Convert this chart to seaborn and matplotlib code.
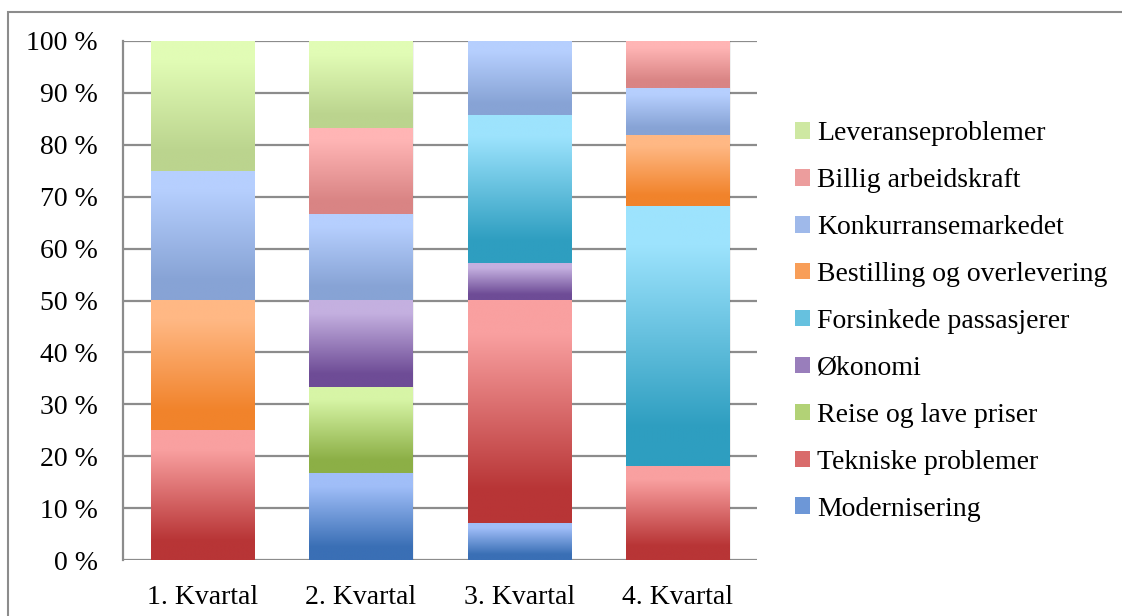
import numpy as np
import pandas as pd
import seaborn as sns
import matplotlib.pyplot as plt
from matplotlib.colors import LinearSegmentedColormap, to_rgb
from matplotlib.patches import Patch, Rectangle

quarters = ['1. Kvartal', '2. Kvartal', '3. Kvartal', '4. Kvartal']

# series, bottom to top (counts per quarter, shown as share of the quarter)
series = ['Modernisering', 'Tekniske problemer', 'Reise og lave priser', 'Økonomi',
          'Forsinkede passasjerer', 'Bestilling og overlevering', 'Konkurransemarkedet',
          'Billig arbeidskraft', 'Leveranseproblemer']
modernisering = [0, 1, 1, 0]
tekniske = [1, 0, 6, 4]
reise = [0, 1, 0, 0]
okonomi = [0, 1, 1, 0]
forsinkede = [0, 0, 4, 11]
bestilling = [1, 0, 0, 3]
konkurranse = [1, 1, 2, 2]
billig = [0, 1, 0, 2]
leveranse = [1, 1, 0, 0]

# (top colour, bottom colour) of each gradient
light = ['#a0bef8', '#f9a0a0', '#d7f5a6', '#c4b0e0', '#9de3fd', '#ffb884', '#b6cffe', '#ffb5b5', '#e1fcb5']
dark = ['#3a6fb5', '#b83536', '#8caf46', '#6e4c96', '#2e9ec0', '#f1832b', '#87a3d5', '#d98484', '#bbd48e']

counts = np.array([modernisering, tekniske, reise, okonomi, forsinkede,
                   bestilling, konkurranse, billig, leveranse], dtype=float)
pct = counts / counts.sum(axis=0) * 100
tops = np.cumsum(pct, axis=0)
bottoms = tops - pct

sns.set_style('white')
plt.rcParams['font.family'] = ['Liberation Serif', 'DejaVu Serif']
plt.rcParams['text.color'] = 'black'

fig = plt.figure(figsize=(11.22, 6.16), dpi=100)
ax = fig.add_axes([123 / 1122, 1 - 560 / 616, 634 / 1122, 519 / 616])

# outer chart frame (only left and top edges visible)
fig.patches.append(Rectangle((8 / 1122, -0.1), 1.2, 1 - 12 / 616 + 0.1, transform=fig.transFigure,
                             fill=False, edgecolor='#8c8c8c', linewidth=1.5, zorder=0))

grad = np.linspace(0, 1, 256).reshape(-1, 1)

for i, name in enumerate(series):
    df = pd.DataFrame({'Kvartal': quarters, 'top': tops[i]})
    n_before = len(ax.patches)
    sns.barplot(data=df, x='Kvartal', y='top', order=quarters, width=0.65,
                color=light[i], ax=ax, zorder=3)
    cmap = LinearSegmentedColormap.from_list(name, [(0, dark[i]), (0.15, dark[i]), (0.85, light[i]), (1, light[i])])
    for j, p in enumerate(ax.patches[n_before:]):
        h = pct[i][j]
        p.set_y(bottoms[i][j])
        p.set_height(h)
        p.set_facecolor('none')
        p.set_edgecolor('none')
        if h <= 0:
            continue
        x0 = p.get_x()
        w = p.get_width()
        # soft shadow
        ax.add_patch(Rectangle((x0 + 0.008, bottoms[i][j]), w, h, facecolor='#000000',
                               alpha=0.06, edgecolor='none', zorder=2))
        ax.imshow(grad, cmap=cmap, origin='lower', aspect='auto', interpolation='bilinear',
                  extent=(x0, x0 + w, bottoms[i][j], tops[i][j]), zorder=3)

ax.set_xlim(-0.5, 3.5)
ax.set_ylim(0, 100)
ax.set_yticks(range(0, 101, 10))
ax.set_yticklabels([f'{v} %' for v in range(0, 101, 10)])
ax.set_xlabel('')
ax.set_ylabel('')
ax.grid(axis='y', color='#8c8c8c', linewidth=1.6, zorder=0)
ax.set_axisbelow(True)
for s in ['top', 'right', 'bottom']:
    ax.spines[s].set_visible(False)
ax.spines['left'].set_color('#8c8c8c')
ax.spines['left'].set_linewidth(1.6)
ax.tick_params(axis='both', length=0, labelsize=20, colors='black')
ax.tick_params(axis='y', pad=18)
ax.tick_params(axis='x', pad=18)

handles = [Patch(facecolor=(np.array(to_rgb(light[i])) + np.array(to_rgb(dark[i]))) / 2, edgecolor='none')
           for i in range(len(series))]
ax.legend(handles[::-1], series[::-1], loc='upper left', bbox_to_anchor=(784 / 1122, 1 - 110 / 616),
          bbox_transform=fig.transFigure, frameon=False, fontsize=20, handlelength=0.55,
          handleheight=0.55, handletextpad=0.25, labelspacing=0.79, borderaxespad=0,
          labelcolor='black')

fig.savefig('out.png', dpi=100)
